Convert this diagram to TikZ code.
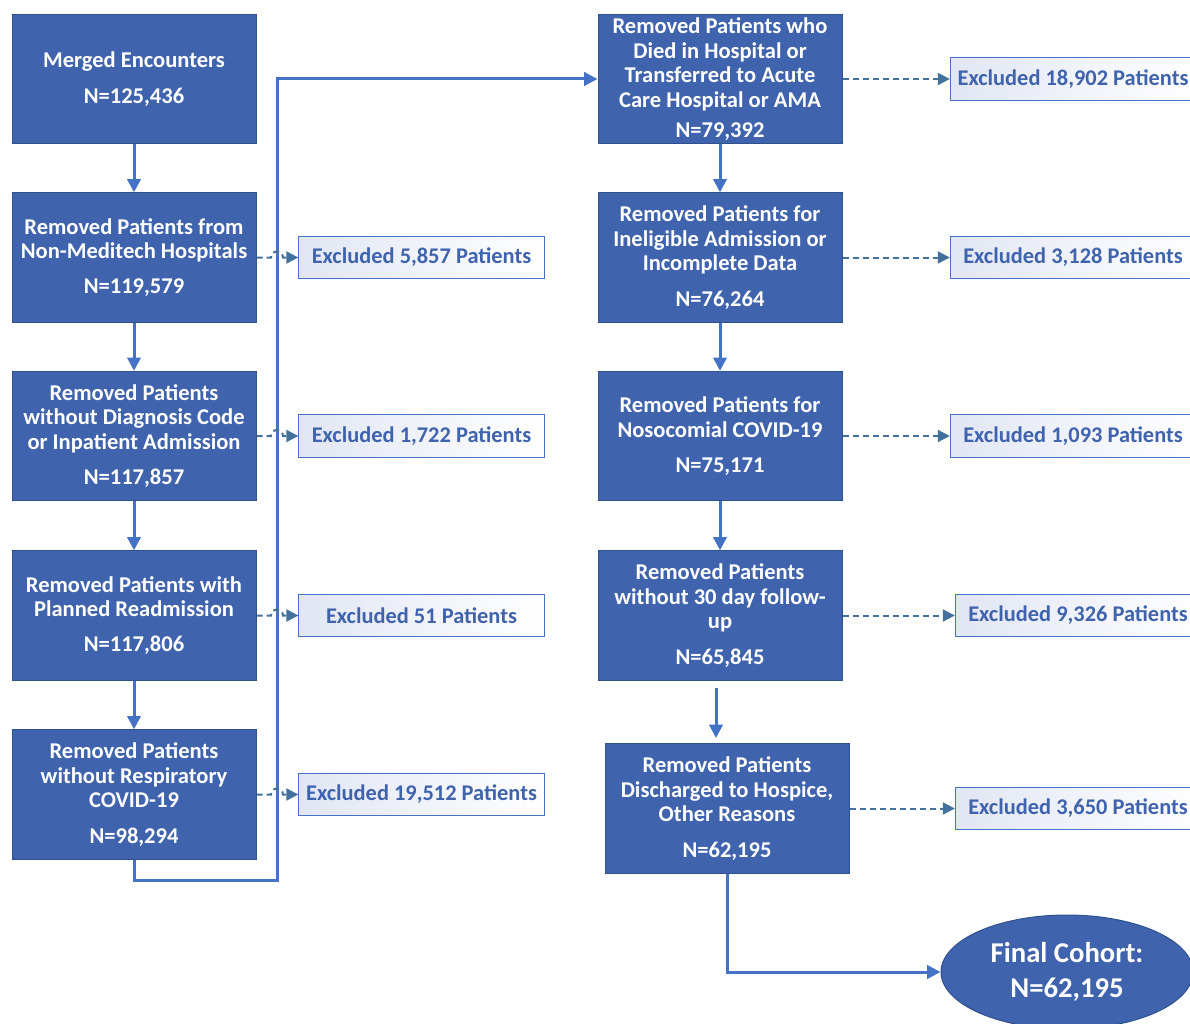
\documentclass[tikz,border=0pt]{standalone}
\usepackage{fontspec}
\setmainfont{Carlito}
\usetikzlibrary{arrows.meta,shapes.geometric}
\definecolor{boxblue}{HTML}{3F63AC}
\definecolor{boxedge}{HTML}{2F528F}
\definecolor{linkblue}{HTML}{4472C4}
\definecolor{dashblue}{HTML}{41719C}
\definecolor{exfill}{HTML}{E1E6F3}
\definecolor{extext}{HTML}{3F63AC}
\begin{document}
\begin{tikzpicture}[x=0.75pt,y=-0.75pt,
 stepbox/.style={draw=boxedge, line width=0.75pt, fill=boxblue, text=white,
   font=\bfseries\fontsize{16.9}{18.4}\selectfont, minimum width=183pt,
   minimum height=97pt, align=center, inner sep=0pt},
 exbox/.style={draw=linkblue, line width=0.75pt, left color=exfill, right color=white,
   text=extext, font=\bfseries\fontsize{16.8}{18.4}\selectfont, minimum width=184pt,
   minimum height=32pt, inner sep=0pt},
 flow/.style={draw=linkblue, line width=2.25pt, -{Triangle[length=10pt,width=10pt]}},
 excl/.style={draw=dashblue, line width=1.5pt, dash pattern=on 4.5pt off 3pt,
   -{Triangle[length=9pt,width=9pt]}},
 final/.style={ellipse, draw=boxedge, line width=0.75pt, fill=boxblue, text=white,
   font=\bfseries\fontsize{21.5}{26}\selectfont, minimum width=189pt,
   minimum height=85.5pt, align=center, inner sep=0pt}
]
\useasboundingbox (0,0) rectangle (1190,1024);
\clip (0,0) rectangle (1190,1024);

% left column
\node[stepbox] (b1) at (134,79) {Merged Encounters\\[9pt]N=125,436};
\node[stepbox] (b2) at (134,257.5) {Removed Patients from\\Non-Meditech Hospitals\\[8pt]N=119,579};
\node[stepbox] (b3) at (134,436) {Removed Patients\\without Diagnosis Code\\or Inpatient Admission\\[8pt]N=117,857};
\node[stepbox] (b4) at (134,615.5) {Removed Patients with\\Planned Readmission\\[8pt]N=117,806};
\node[stepbox] (b5) at (134,794.5) {Removed Patients\\without Respiratory\\COVID-19\\[8pt]N=98,294};

% right column
\node[stepbox] (r1) at (720,79) {Removed Patients who\\Died in Hospital or\\Transferred to Acute\\Care Hospital or AMA\\[4pt]N=79,392};
\node[stepbox] (r2) at (720,257.5) {Removed Patients for\\Ineligible Admission or\\Incomplete Data\\[8pt]N=76,264};
\node[stepbox] (r3) at (720,436) {Removed Patients for\\Nosocomial COVID-19\\[8pt]N=75,171};
\node[stepbox] (r4) at (720,615.5) {Removed Patients\\without 30 day follow-\\up\\[8pt]N=65,845};
\node[stepbox] (r5) at (727,808.5) {Removed Patients\\Discharged to Hospice,\\Other Reasons\\[8pt]N=62,195};

% exclusion boxes
\node[exbox] (e2) at (421.5,257.5) {Excluded 5,857 Patients};
\node[exbox] (e3) at (421.5,436) {Excluded 1,722 Patients};
\node[exbox] (e4) at (421.5,615.5) {Excluded 51 Patients};
\node[exbox] (e5) at (421.5,794.5) {Excluded 19,512 Patients};
\node[exbox] (f1) at (1073,79) {Excluded 18,902 Patients};
\node[exbox] (f2) at (1073,257.5) {Excluded 3,128 Patients};
\node[exbox] (f3) at (1073,436) {Excluded 1,093 Patients};
\node[exbox] (f4) at (1078,615.5) {Excluded 9,326 Patients};
\node[exbox] (f5) at (1078,808.5) {Excluded 3,650 Patients};

\node[final] (fin) at (1067,972) {Final Cohort:\\N=62,195};

% solid flow arrows
\draw[flow] (b1) -- (b2);
\draw[flow] (b2) -- (b3);
\draw[flow] (b3) -- (b4);
\draw[flow] (b4) -- (b5);
\coordinate (c1) at (134,880);
\coordinate (c2) at (277,880);
\coordinate (c3) at (277,79);
\draw[flow] (b5.south) -- (c1) -- (c2) -- (c3) -- (r1.west);
\draw[flow] (r1) -- (r2);
\draw[flow] (r2) -- (r3);
\draw[flow] (r3) -- (r4);
\coordinate (a1) at (716,688);
\coordinate (a2) at (716,738);
\draw[flow] (a1) -- (a2);
\draw[flow] (r5.south) |- (fin.west);

% dashed exclusion arrows with hops over the vertical connector
\foreach \b/\e in {b2/e2,b3/e3,b4/e4,b5/e5}{
  \draw[excl] (\b.east) -- (\b.east -| 271,0) arc[start angle=180,end angle=360,radius=6] -- (\e.west);
}
\draw[excl] (r1) -- (f1);
\draw[excl] (r2) -- (f2);
\draw[excl] (r3) -- (f3);
\draw[excl] (r4) -- (f4);
\draw[excl] (r5) -- (f5);
\end{tikzpicture}
\end{document}
